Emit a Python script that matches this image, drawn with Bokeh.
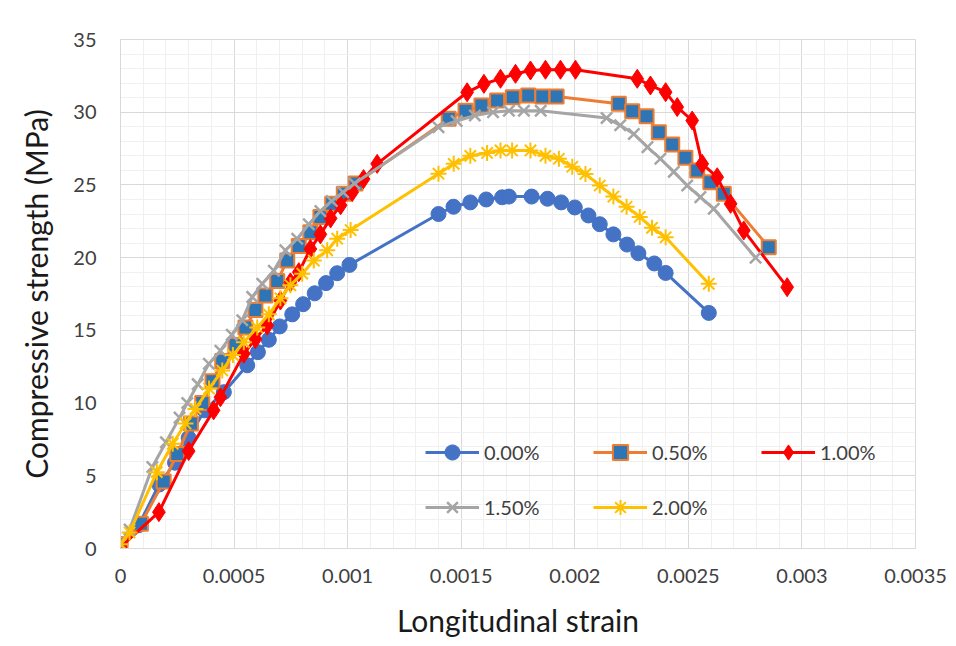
import numpy as np
from bokeh.plotting import figure
from bokeh.models import Range1d, FixedTicker, Legend, LegendItem
from bokeh.embed import file_html
from bokeh.resources import INLINE

# ---- data ----
s000_x = [0, 0.00008, 0.00017, 0.00024, 0.00030, 0.00037, 0.000455, 0.000558, 0.000605, 0.000653,
          0.000701, 0.000756, 0.000804, 0.000855, 0.000905, 0.000954, 0.001008, 0.0014, 0.001466,
          0.00154, 0.00161, 0.00168, 0.00171, 0.00181, 0.00188, 0.00194, 0.00200, 0.00206, 0.00211,
          0.00217, 0.00223, 0.00228, 0.00235, 0.0024, 0.00259]
s000_y = [0.3, 1.6, 4.4, 5.9, 7.6, 9.5, 10.75, 12.6, 13.5, 14.35, 15.27, 16.1, 16.8, 17.55, 18.25,
          18.93, 19.5, 23.0, 23.5, 23.8, 24.0, 24.15, 24.2, 24.2, 24.05, 23.8, 23.45, 22.9, 22.3,
          21.6, 20.9, 20.3, 19.6, 18.95, 16.2]

s050_x = [0, 0.00009, 0.00019, 0.00025, 0.00031, 0.00036, 0.000405, 0.000448, 0.000506, 0.00055,
          0.000594, 0.000638, 0.00069, 0.000734, 0.000785, 0.000836, 0.00088, 0.000932, 0.000983,
          0.001035, 0.001445, 0.001519, 0.001589, 0.001658, 0.001727, 0.001795, 0.001857, 0.00192,
          0.002194, 0.002253, 0.002316, 0.00237, 0.002429, 0.002487, 0.002539, 0.002597, 0.002656,
          0.002854]
s050_y = [0.3, 1.7, 4.6, 6.5, 8.6, 10.0, 11.5, 12.9, 14.0, 15.2, 16.4, 17.4, 18.4, 19.8, 20.8,
          21.75, 22.8, 23.7, 24.4, 25.1, 29.55, 30.1, 30.46, 30.8, 31.03, 31.15, 31.08, 31.08,
          30.58, 30.07, 29.73, 28.63, 27.78, 26.87, 26.0, 25.19, 24.4, 20.72]

s100_x = [0, 0.000169, 0.0003, 0.00041, 0.00044, 0.000543, 0.000594, 0.000646, 0.000704, 0.000748,
          0.000785, 0.000836, 0.00088, 0.000925, 0.000969, 0.00102, 0.00107, 0.00113, 0.001526,
          0.0016, 0.001673, 0.001739, 0.001805, 0.001871, 0.001937, 0.002003, 0.002275, 0.002333,
          0.0024, 0.002451, 0.002517, 0.002561, 0.002627, 0.002686, 0.002744, 0.002935]
s100_y = [0.1, 2.5, 6.7, 9.5, 10.4, 13.4, 14.4, 15.33, 17.05, 18.3, 19.0, 20.6, 21.6, 22.7, 23.6,
          24.5, 25.4, 26.45, 31.37, 31.95, 32.3, 32.64, 32.87, 32.92, 32.92, 32.92, 32.3, 31.84,
          31.38, 30.35, 29.43, 26.45, 25.53, 23.7, 21.87, 17.97]

s150_x = [0, 0.00004, 0.00014, 0.0002, 0.00026, 0.000294, 0.00034, 0.000389, 0.00044, 0.00049,
          0.000536, 0.00058, 0.000624, 0.000675, 0.000726, 0.000778, 0.000829, 0.00088, 0.00093,
          0.00098, 0.00103, 0.0014, 0.00148, 0.00156, 0.00164, 0.00171, 0.001776, 0.00185,
          0.00214, 0.0022, 0.00226, 0.00232, 0.002377, 0.002436, 0.002495, 0.002553, 0.002612,
          0.002796]
s150_y = [0.3, 1.3, 5.6, 7.3, 9.0, 10.0, 11.3, 12.7, 13.6, 14.7, 15.7, 17.3, 18.2, 19.1, 20.5,
          21.3, 22.3, 23.2, 23.9, 24.5, 25.1, 28.97, 29.4, 29.77, 30.0, 30.1, 30.1, 30.1, 29.6,
          29.1, 28.5, 27.6, 26.8, 25.9, 24.96, 24.16, 23.36, 20.0]

s200_x = [0, 0.00004, 0.00016, 0.00023, 0.000286, 0.00033, 0.00039, 0.000448, 0.000495, 0.000543,
          0.000602, 0.000653, 0.000704, 0.000748, 0.0008, 0.000851, 0.00091, 0.000954, 0.001013,
          0.0014, 0.001467, 0.00154, 0.001614, 0.001673, 0.001724, 0.001805, 0.001871, 0.00193,
          0.001989, 0.002047, 0.00211, 0.00217, 0.002228, 0.002286, 0.00234, 0.0024, 0.00259]
s200_y = [0.3, 1.1, 5.25, 7.2, 8.6, 9.6, 11.0, 12.24, 13.3, 14.19, 15.2, 16.1, 17.2, 18.1, 18.9,
          19.8, 20.5, 21.3, 21.9, 25.77, 26.45, 27.0, 27.2, 27.37, 27.37, 27.37, 27.0, 26.8, 26.25,
          25.76, 24.96, 24.2, 23.5, 22.8, 22.05, 21.4, 18.2]

series_names = ["0.00%", "0.50%", "1.00%", "1.50%", "2.00%"]
x_ticks = [0, 0.0005, 0.001, 0.0015, 0.002, 0.0025, 0.003, 0.0035]
x_tick_labels = ["0", "0.0005", "0.001", "0.0015", "0.002", "0.0025", "0.003", "0.0035"]
y_ticks = [0, 5, 10, 15, 20, 25, 30, 35]
y_tick_labels = ["0", "5", "10", "15", "20", "25", "30", "35"]

FONT = "Lato"
TXT = "#404040"

p = figure(width=956, height=646, output_backend="svg", toolbar_location=None,
           x_range=Range1d(0, 0.0035), y_range=Range1d(0, 35),
           min_border_left=120, min_border_right=41, min_border_top=39, min_border_bottom=98)
p.background_fill_color = "white"
p.border_fill_color = "white"
p.outline_line_color = "#D9D9D9"

p.xaxis.ticker = FixedTicker(ticks=x_ticks, minor_ticks=list(np.round(np.arange(0, 0.00351, 0.0001), 6)))
p.yaxis.ticker = FixedTicker(ticks=y_ticks, minor_ticks=list(range(0, 36)))
p.xaxis.major_label_overrides = {t: l for t, l in zip(x_ticks, x_tick_labels)}
p.yaxis.major_label_overrides = {t: l for t, l in zip(y_ticks, y_tick_labels)}

for ax in (p.xaxis, p.yaxis):
    ax.axis_line_color = "#D9D9D9"
    ax.major_tick_line_color = None
    ax.minor_tick_line_color = None
    ax.major_tick_out = 0
    ax.major_tick_in = 0
    ax.major_label_text_font = FONT
    ax.major_label_text_font_size = "20px"
    ax.major_label_text_color = TXT
    ax.axis_label_text_font = FONT
    ax.axis_label_text_font_size = "30px"
    ax.axis_label_text_font_style = "normal"
    ax.axis_label_text_color = "#1a1a1a"

p.xaxis.axis_label = "Longitudinal strain"
p.yaxis.axis_label = "Compressive strength (MPa)"
p.xaxis.major_label_standoff = 16
p.yaxis.major_label_standoff = 20
p.xaxis.axis_label_standoff = 16
p.yaxis.axis_label_standoff = 16

for g in (p.xgrid, p.ygrid):
    g.grid_line_color = "#D9D9D9"
    g.grid_line_width = 1
    g.minor_grid_line_color = "#F0F0F0"
    g.minor_grid_line_width = 1

items = {}
# 0.00%
l = p.line(s000_x, s000_y, line_color="#4472C4", line_width=3)
m = p.scatter(s000_x, s000_y, marker="circle", size=15, fill_color="#4472C4", line_color="#4472C4")
items[0] = LegendItem(label=series_names[0], renderers=[l, m])
# 0.50%
l = p.line(s050_x, s050_y, line_color="#ED7D31", line_width=3)
m = p.scatter(s050_x, s050_y, marker="square", size=14, fill_color="#2E75B6", line_color="#ED7D31",
              line_width=2)
items[1] = LegendItem(label=series_names[1], renderers=[l, m])
# 1.00%
l = p.line(s100_x, s100_y, line_color="#FF0000", line_width=3)
m = p.scatter(s100_x, s100_y, marker="diamond", size=19, fill_color="#FF0000", line_color="#FF0000")
items[2] = LegendItem(label=series_names[2], renderers=[l, m])
# 1.50%
l = p.line(s150_x, s150_y, line_color="#A5A5A5", line_width=3)
m = p.scatter(s150_x, s150_y, marker="x", size=16, line_color="#A5A5A5", line_width=2.5)
items[3] = LegendItem(label=series_names[3], renderers=[l, m])
# 2.00%
l = p.line(s200_x, s200_y, line_color="#FFC000", line_width=3)
m = p.scatter(s200_x, s200_y, marker="asterisk", size=16, line_color="#FFC000", line_width=2)
items[4] = LegendItem(label=series_names[4], renderers=[l, m])

# legend is filled column by column: (0.00, 1.50), (0.50, 2.00), (1.00)
legend = Legend(items=[items[0], items[3], items[1], items[4], items[2]], ncols=3, location=(305, 22),
                glyph_width=54, glyph_height=38, label_height=38, label_width=92,
                label_standoff=5, spacing=17, padding=0, margin=0,
                label_text_font=FONT, label_text_font_size="20px", label_text_color=TXT,
                background_fill_alpha=0, border_line_alpha=0)
p.add_layout(legend, "center")

open("out.html", "w").write(file_html(p, INLINE))
